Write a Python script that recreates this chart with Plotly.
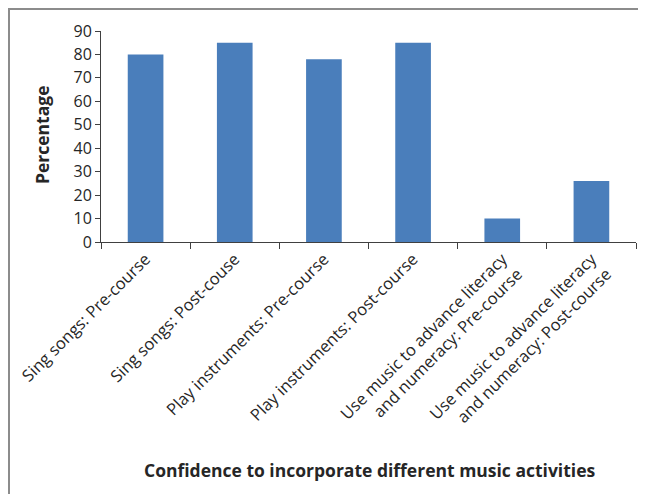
import plotly.graph_objects as go

categories = [
    "Sing songs: Pre-course",
    "Sing songs: Post-couse",
    "Play instruments: Pre-course",
    "Play instruments: Post-course",
    "Use music to advance literacy<br>and numeracy: Pre-course",
    "Use music to advance literacy<br>and numeracy: Post-course",
]
percentages = [80, 85, 78, 85, 10, 26]
y_ticks = [0, 10, 20, 30, 40, 50, 60, 70, 80, 90]

W, H = 646, 494
OFF = 8  # ページ余白の分
L, T = 101 - OFF, 31 - OFF
R = W - (636 - OFF)
B = H - (242 - OFF)
pw, ph = W - L - R, H - T - B


def px_x(x):
    return (x - OFF - L) / pw


def px_y(y):
    return (H - B - (y - OFF)) / ph


fig = go.Figure(
    go.Bar(x=categories, y=percentages, marker={"color": "#4a7ebb", "line": {"width": 0}})
)

fig.update_layout(
    width=W,
    height=H,
    margin={"l": L, "r": R, "t": T, "b": B, "pad": 0},
    plot_bgcolor="white",
    paper_bgcolor="white",
    bargap=0.6,
    showlegend=False,
    font={"family": "Open Sans, Liberation Sans, sans-serif", "color": "#262626"},
)

fig.update_xaxes(
    automargin=False,
    showline=True,
    linecolor="#404040",
    linewidth=1,
    ticks="outside",
    tickson="boundaries",
    ticklen=6,
    tickcolor="#404040",
    tickangle=-45,
    tickfont={"size": 16.5, "color": "#262626"},
    showgrid=False,
)

fig.update_yaxes(
    automargin=False,
    range=[0, 90],
    tickvals=y_ticks,
    showline=True,
    linecolor="#404040",
    linewidth=1,
    ticks="outside",
    ticklen=5,
    tickcolor="#404040",
    tickfont={"size": 16, "color": "#262626"},
    showgrid=False,
)

# 外枠（画像の外まで続く）
fig.add_shape(
    type="rect",
    xref="paper",
    yref="paper",
    x0=px_x(9),
    x1=px_x(W + 40),
    y0=px_y(H + 40),
    y1=px_y(9),
    line={"color": "#8c8c8c", "width": 2},
    fillcolor="rgba(0,0,0,0)",
    layer="below",
)

fig.add_annotation(
    text="<b>Percentage</b>",
    xref="paper",
    yref="paper",
    x=px_x(42),
    y=px_y(135),
    textangle=-90,
    showarrow=False,
    font={"size": 17.5, "color": "#262626"},
    xanchor="center",
    yanchor="middle",
)

fig.add_annotation(
    text="<b>Confidence to incorporate different music activities</b>",
    xref="paper",
    yref="paper",
    x=px_x(369),
    y=px_y(470),
    showarrow=False,
    font={"size": 17.5, "color": "#262626"},
    xanchor="center",
    yanchor="middle",
)

fig.write_html("out.html")
